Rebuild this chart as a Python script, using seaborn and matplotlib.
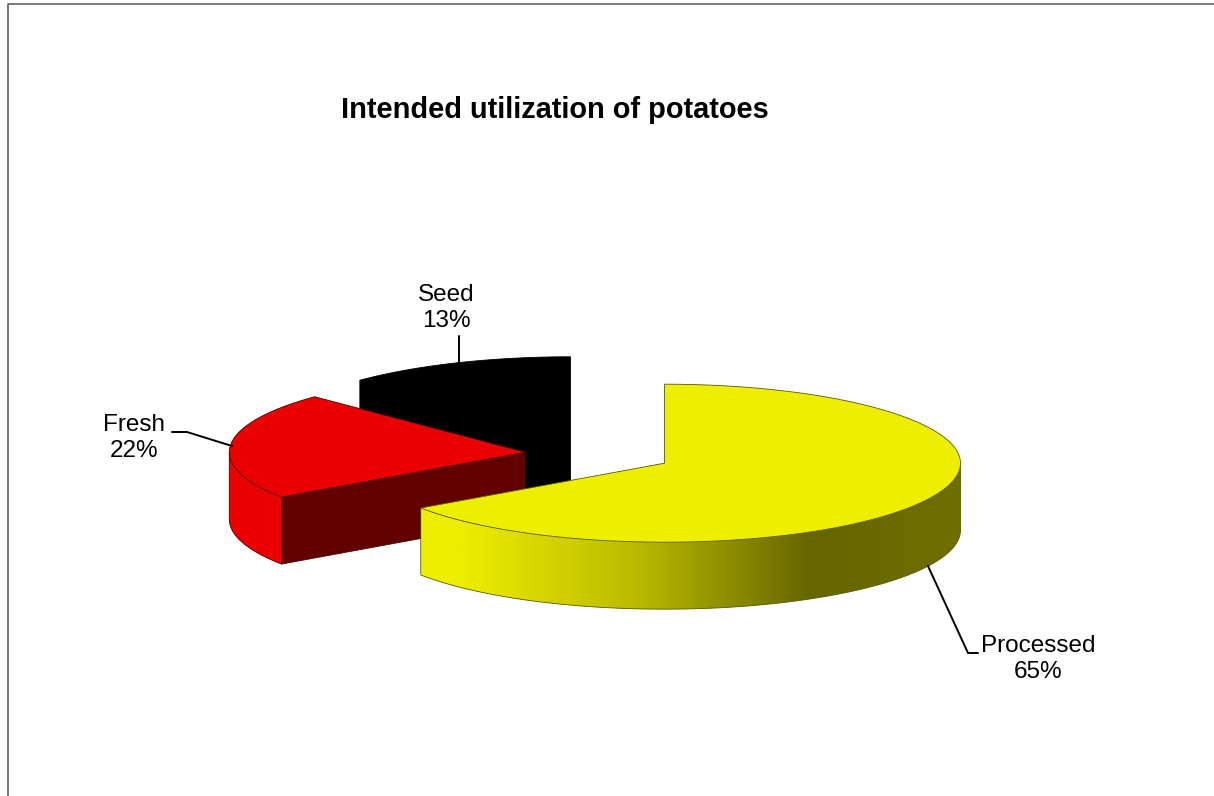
import numpy as np
import matplotlib
matplotlib.use("Agg")
import matplotlib.pyplot as plt
from matplotlib.colors import LinearSegmentedColormap
from matplotlib.patches import Polygon
import seaborn as sns

# --- data ---
categories = ["Processed", "Fresh", "Seed"]
shares = [65.4, 22.0, 12.6]
title = "Intended utilization of potatoes"

# --- style ---
top_colors = ["#EEEE00", "#EA0000", "#000000"]
cut_colors = ["#666600", "#620000", "#000000"]
edge_colors = ["#5A5A00", "#4A0000", "#000000"]
side_stops = [(0.0, "#EEEE00"), (0.07, "#EEEE00"), (0.39, "#BCBC00"), (0.72, "#666600"), (1.0, "#6E6E00")]
yellow_shade = LinearSegmentedColormap.from_list("side", side_stops, N=512)

CX, CY = 599, 454      # pie centre in pixels
RX, RY = 296, 79       # ellipse radii
DEPTH = 67             # extrusion height
EXPLODE = 74           # exploded distance (in pie plane, x-pixels)

sns.set_theme(style="white")
plt.rcParams["font.family"] = ["Liberation Sans", "DejaVu Sans"]

fig = plt.figure(figsize=(12.14, 7.96), dpi=100, facecolor="white")
ax = fig.add_axes([0, 0, 1, 1])
ax.axis("off")

# outer frame (only the left and top rules are visible)
ax.plot([8, 8, 1214], [796, 4, 4], color="#555555", lw=1.1, solid_capstyle="butt", zorder=0)


def arc(cx, cy, a0, a1, n=160):
    """Points of the ellipse rim; angles clockwise from 12 o'clock, degrees."""
    t = np.radians(np.linspace(a0, a1, n))
    return cx + RX * np.sin(t), cy - RY * np.cos(t)


# slices are painted back to front
fractions = np.array(shares) / sum(shares)
ends = np.cumsum(fractions) * 360
starts = ends - fractions * 360
for z, i in zip((1, 2, 3), (2, 1, 0)):
    a0, a1 = starts[i], ends[i]
    mid = np.radians((a0 + a1) / 2)
    cx = CX + EXPLODE * np.sin(mid)
    cy = CY - EXPLODE * RY / RX * np.cos(mid)
    ec = edge_colors[i]

    # radial cut faces turned toward the viewer
    for ang, normal in ((a0, a0 - 90), (a1, a1 + 90)):
        if np.cos(np.radians(normal)) < -1e-6:
            ex = cx + RX * np.sin(np.radians(ang))
            ey = cy - RY * np.cos(np.radians(ang))
            ax.fill([cx, ex, ex, cx], [cy, ey, ey + DEPTH, cy + DEPTH],
                    fc=cut_colors[i], ec=ec, lw=0.6, zorder=z)

    # outer rim, visible on the front half only
    v0, v1 = max(a0, 90), min(a1, 270)
    if v1 > v0:
        x, y = arc(cx, cy, v0, v1)
        outline_x, outline_y = np.r_[x, x[::-1]], np.r_[y, y[::-1] + DEPTH]
        if i == 0:
            im = ax.imshow(np.linspace(0, 1, 512)[None, :], cmap=yellow_shade, aspect="auto",
                           extent=(x.min(), x.max(), (y + DEPTH).max(), y.min()),
                           zorder=z, interpolation="bilinear")
            clip = Polygon(np.c_[outline_x, outline_y], closed=True, transform=ax.transData,
                           fc="none", ec="none")
            ax.add_patch(clip)
            im.set_clip_path(clip)
        else:
            ax.fill(outline_x, outline_y, fc=top_colors[i], ec="none", zorder=z)
        ax.plot(np.r_[x[0], x[0], x, x[-1]], np.r_[y[0], y[0] + DEPTH, y + DEPTH, y[-1]],
                color=ec, lw=0.6, zorder=z)

    # top surface
    x, y = arc(cx, cy, a0, a1)
    ax.fill(np.r_[cx, x], np.r_[cy, y], fc=top_colors[i], ec=ec, lw=0.6, zorder=z + 0.5)

# leader lines and labels
leaders = {
    "Processed": ([928, 968, 978], [566, 653, 653]),
    "Fresh": ([232, 187, 172], [446, 432, 432]),
    "Seed": ([459, 459], [364, 336]),
}
label_pos = {"Processed": (1038, 659), "Fresh": (134, 438), "Seed": (446, 308)}
for name, share in zip(categories, shares):
    lx, ly = leaders[name]
    ax.plot(lx, ly, color="black", lw=1.4, zorder=5, solid_joinstyle="miter")
    tx, ty = label_pos[name]
    ax.text(tx, ty, f"{name}\n{share:.0f}%", ha="center", va="center",
            fontsize=17.5, color="black", linespacing=1.2, zorder=6)

ax.text(555, 110, title, ha="center", va="center", fontsize=20.9,
        fontweight="bold", color="black")

ax.set_xlim(0, 1214)
ax.set_ylim(796, 0)

fig.savefig("out.png", dpi=100)
